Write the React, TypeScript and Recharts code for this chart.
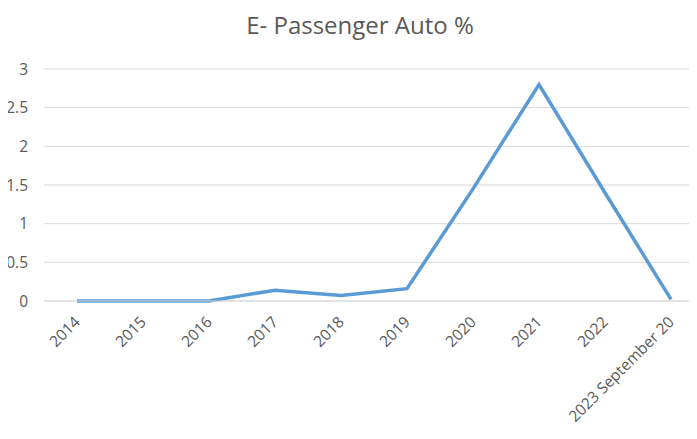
import { CartesianGrid, Line, LineChart, XAxis, YAxis } from "recharts";

const years = [
  "2014",
  "2015",
  "2016",
  "2017",
  "2018",
  "2019",
  "2020",
  "2021",
  "2022",
  "2023 September 20",
];
const autoShare = [0, 0, 0, 0.14, 0.07, 0.16, 1.45, 2.8, 1.4, 0.02];
const yTicks = [0, 0.5, 1, 1.5, 2, 2.5, 3];

const data = years.map((year, i) => ({ year, share: autoShare[i] }));

const FONT = "'Open Sans', 'Noto Sans', sans-serif";
const TEXT = "#595959";

// rotated year labels, anchored at their right end just below the axis
function YearTick({ x, y, payload }: { x?: number; y?: number; payload?: { value: string } }) {
  const tx = (x ?? 0) + 4;
  const ty = (y ?? 0) + 22;
  return (
    <text
      x={tx}
      y={ty}
      textAnchor="end"
      fill={TEXT}
      fontSize={15.5}
      fontFamily={FONT}
      transform={`rotate(-45, ${tx}, ${ty})`}
    >
      {payload?.value}
    </text>
  );
}

export default function App() {
  return (
    <div
      style={{
        position: "relative",
        margin: -8,
        width: 697,
        height: 439,
        overflow: "hidden",
        background: "#fff",
      }}
    >
      <div
        style={{
          position: "absolute",
          top: 13,
          left: 0,
          width: 720,
          textAlign: "center",
          fontFamily: FONT,
          fontSize: 24,
          lineHeight: 1,
          color: TEXT,
        }}
      >
        E- Passenger Auto %
      </div>
      <LineChart
        width={704}
        height={439}
        data={data}
        margin={{ top: 69, right: 0, bottom: 0, left: 0 }}
      >
        <CartesianGrid stroke="#d9d9d9" vertical={false} />
        <XAxis
          dataKey="year"
          interval={0}
          height={138}
          padding={{ left: 33, right: 33 }}
          axisLine={{ stroke: "#d9d9d9" }}
          tickLine={false}
          tickSize={0}
          tickMargin={0}
          tick={<YearTick />}
        />
        <YAxis
          domain={[0, 3]}
          ticks={yTicks}
          width={44}
          axisLine={false}
          tickLine={false}
          tickSize={0}
          tickMargin={16}
          tick={{ fontSize: 15.5, fill: TEXT, fontFamily: FONT }}
        />
        <Line
          type="linear"
          dataKey="share"
          stroke="#5b9bd5"
          strokeWidth={3.5}
          dot={false}
          isAnimationActive={false}
        />
      </LineChart>
    </div>
  );
}
